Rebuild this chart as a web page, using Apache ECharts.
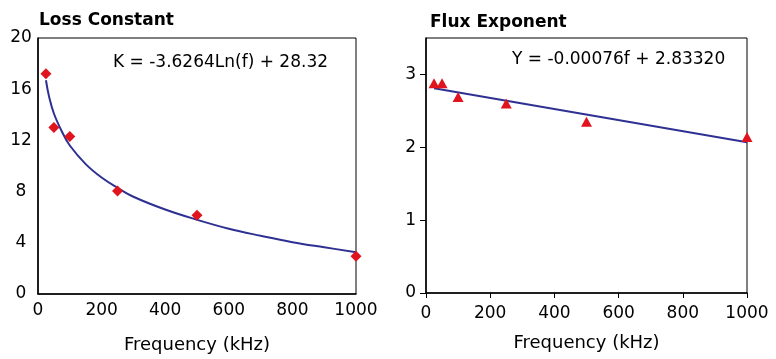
<!DOCTYPE html>
<html><head><meta charset="utf-8">
<script src="https://cdn.jsdelivr.net/npm/echarts@6/dist/echarts.min.js"></script>
<style>html,body{margin:0;padding:0;background:#fff}#c{width:776px;height:359px}</style>
</head><body><div id="c"></div>
<script>
// Loss Constant chart
const kFreq = [25, 50, 100, 250, 500, 1000];
const kValues = [17.2, 13.0, 12.3, 8.05, 6.15, 2.95];
const kFitFreq = [25, 35, 50, 75, 100, 150, 200, 250, 300, 400, 500, 600, 700, 800, 900, 1000];
const kFitValues = [16.7, 15.4, 14.1, 12.7, 11.6, 10.15, 9.1, 8.3, 7.6, 6.6, 5.8, 5.1, 4.55, 4.05, 3.65, 3.27];
const kYTicks = [0, 4, 8, 12, 16, 20];
// Flux Exponent chart
const nFreq = [25, 50, 100, 250, 500, 1000];
const nValues = [2.88, 2.88, 2.69, 2.60, 2.35, 2.14];
const nFitFreq = [25, 1000];
const nFitValues = [2.81, 2.07];
const nYTicks = [0, 1, 2, 3];
const xTicks = [0, 200, 400, 600, 800, 1000];
const titles = ['Loss Constant', 'Flux Exponent'];
const equations = ['K = -3.6264Ln(f) + 28.32', 'Y = -0.00076f + 2.83320'];
const xName = 'Frequency (kHz)';

const FONT = 'DejaVu Sans';
const RED = '#e0141e';
const BLUE = '#2e3192';
const pairs = (a, b) => a.map((v, i) => [v, b[i]]);
const plain = v => String(v);

const chart = echarts.init(document.getElementById('c'), null, {renderer: 'canvas'});
const tickTxt = {color: '#000', fontFamily: FONT, fontSize: 17, formatter: plain};
const nameTxt = {color: '#000', fontFamily: FONT, fontSize: 18};
chart.setOption({
  animation: false,
  backgroundColor: '#fff',
  title: [
    {text: titles[0], left: 34, top: 7, textStyle: {fontFamily: FONT, fontWeight: 'bold', fontSize: 17, color: '#000'}},
    {text: titles[1], left: 425, top: 9, textStyle: {fontFamily: FONT, fontWeight: 'bold', fontSize: 17, color: '#000'}}
  ],
  graphic: [
    {type: 'text', left: 113, top: 54, style: {text: equations[0], fontFamily: FONT, fontSize: 17, fill: '#000'}},
    {type: 'text', left: 512, top: 51, style: {text: equations[1], fontFamily: FONT, fontSize: 17, fill: '#000'}}
  ],
  grid: [
    {left: 38, right: 420, top: 38, bottom: 62, show: true, borderColor: '#000', borderWidth: 1},
    {left: 426, right: 29, top: 38, bottom: 66, show: true, borderColor: '#000', borderWidth: 1}
  ],
  xAxis: [
    {gridIndex: 0, type: 'value', min: 0, max: 1000, interval: 200,
     name: xName, nameLocation: 'middle', nameGap: 42, nameTextStyle: nameTxt,
     axisLine: {lineStyle: {color: '#000', width: 1.5}}, axisTick: {show: false},
     axisLabel: Object.assign({margin: 8, customValues: xTicks}, tickTxt), splitLine: {show: false}},
    {gridIndex: 1, type: 'value', min: 0, max: 1000, interval: 200,
     name: xName, nameLocation: 'middle', nameGap: 41, nameTextStyle: nameTxt,
     axisLine: {lineStyle: {color: '#000', width: 1.5}}, axisTick: {show: true, length: 5, lineStyle: {color: '#000'}},
     axisLabel: Object.assign({margin: 12, customValues: xTicks}, tickTxt), splitLine: {show: false}}
  ],
  yAxis: [
    {gridIndex: 0, type: 'value', min: kYTicks[0], max: kYTicks[kYTicks.length - 1], interval: 4,
     axisLine: {show: true, lineStyle: {color: '#000', width: 1.5}}, axisTick: {show: false},
     axisLabel: Object.assign({margin: 17, align: 'center', customValues: kYTicks}, tickTxt), splitLine: {show: false}},
    {gridIndex: 1, type: 'value', min: 0, max: 3.5, interval: 1,
     axisLine: {show: true, lineStyle: {color: '#000', width: 1.5}},
     axisTick: {show: true, length: 6, customValues: nYTicks, lineStyle: {color: '#000'}},
     axisLabel: Object.assign({margin: 10, customValues: nYTicks}, tickTxt), splitLine: {show: false}}
  ],
  series: [
    {type: 'line', xAxisIndex: 0, yAxisIndex: 0, data: pairs(kFitFreq, kFitValues), smooth: 0.4,
     showSymbol: false, lineStyle: {color: BLUE, width: 2}, z: 2},
    {type: 'scatter', xAxisIndex: 0, yAxisIndex: 0, data: pairs(kFreq, kValues), symbol: 'diamond',
     symbolSize: [11, 11], itemStyle: {color: RED, opacity: 1}, z: 3},
    {type: 'line', xAxisIndex: 1, yAxisIndex: 1, data: pairs(nFitFreq, nFitValues),
     showSymbol: false, lineStyle: {color: BLUE, width: 2}, z: 2},
    {type: 'scatter', xAxisIndex: 1, yAxisIndex: 1, data: pairs(nFreq, nValues), symbol: 'triangle',
     symbolSize: [11, 10], itemStyle: {color: RED, opacity: 1}, z: 3}
  ]
});
</script></body></html>
